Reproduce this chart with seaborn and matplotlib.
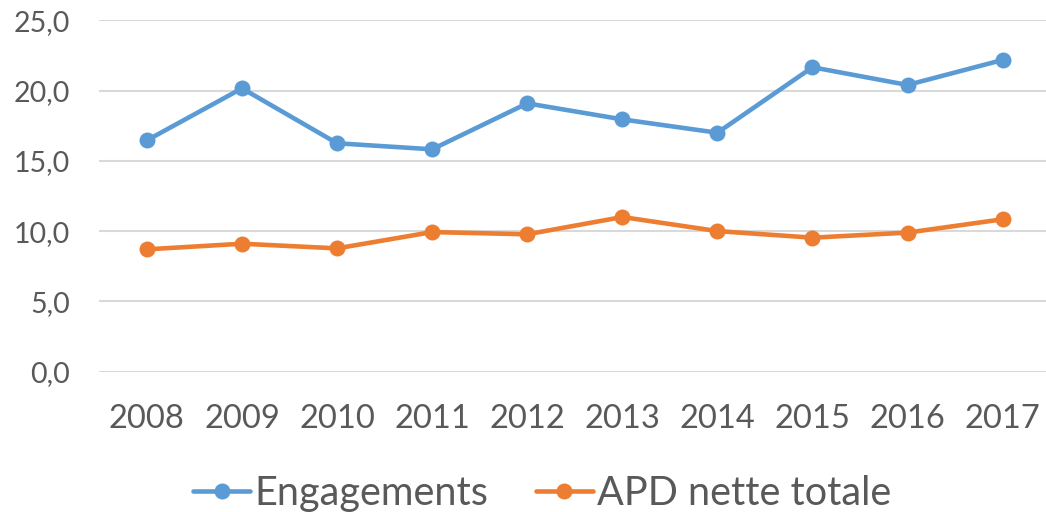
import numpy as np
import pandas as pd
import matplotlib
matplotlib.use("Agg")
import matplotlib.pyplot as plt
from matplotlib.ticker import FuncFormatter
import seaborn as sns

# Données
annees = [2008, 2009, 2010, 2011, 2012, 2013, 2014, 2015, 2016, 2017]
engagements = [16.47, 20.17, 16.26, 15.83, 19.10, 17.96, 17.01, 21.67, 20.41, 22.19]
apd_nette = [8.71, 9.11, 8.78, 9.94, 9.78, 11.01, 10.01, 9.54, 9.90, 10.85]
series = ["Engagements", "APD nette totale"]
couleurs = ["#5B9BD5", "#ED7D31"]
yticks = [0, 5, 10, 15, 20, 25]

df = pd.DataFrame({
    "annee": annees * 2,
    "valeur": engagements + apd_nette,
    "serie": [series[0]] * len(annees) + [series[1]] * len(annees),
})

sns.set_style("white")
plt.rcParams["font.family"] = ["Lato", "DejaVu Sans"]
gris = "#595959"

fig = plt.figure(figsize=(10.46, 5.12), dpi=100)
ax = fig.add_axes([0.095, 0.274, 0.909, 0.686])

sns.lineplot(data=df, x="annee", y="valeur", hue="serie", hue_order=series,
             palette=couleurs, marker="o", markersize=11.5, markeredgewidth=0,
             linewidth=3.3, ax=ax, legend=True)

ax.set_xlim(2007.5, 2017.5)
ax.set_ylim(0, 25)
ax.set_xticks(annees)
ax.set_yticks(yticks)
ax.yaxis.set_major_formatter(FuncFormatter(lambda v, p: f"{v:.1f}".replace(".", ",")))
ax.grid(axis="y", color="#D9D9D9", linewidth=1.5)
ax.set_axisbelow(True)
for s in ax.spines.values():
    s.set_visible(False)
ax.tick_params(axis="x", length=0, pad=23, labelsize=23.5, labelcolor=gris)
ax.tick_params(axis="y", length=0, pad=21, labelsize=20.5, labelcolor=gris)
ax.set_xlabel("")
ax.set_ylabel("")

handles, labels = ax.get_legend_handles_labels()
ax.get_legend().remove()
fig.legend(handles, labels, loc="center", bbox_to_anchor=(542 / 1046, 0.037),
           ncol=2, frameon=False, fontsize=28.5, labelcolor=gris,
           handlelength=1.45, handletextpad=0.1, columnspacing=1.2,
           borderaxespad=0, borderpad=0)

fig.savefig("out.png", dpi=100)
